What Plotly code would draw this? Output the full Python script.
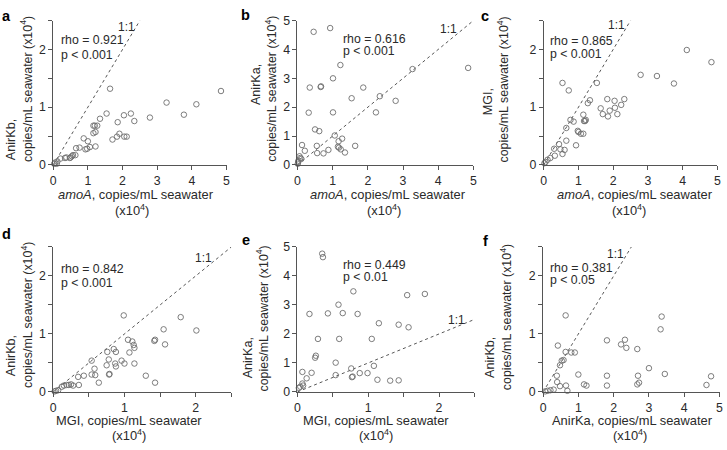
import plotly.graph_objects as go

W, H = 727, 450

# ---------------- data (x10^4 copies/mL seawater) ----------------
# panel a: amoA vs AnirKb
a_amoA = [1.64, 4.84, 3.27, 4.13, 3.77, 2.79, 1.54, 2.04, 2.24, 2.34, 1.86, 1.35, 1.16, 1.20, 1.27,
          1.16, 1.22, 1.91, 1.84, 1.71, 2.05, 2.12, 0.88, 1.00, 1.22, 1.06, 0.98, 0.93, 0.66, 0.76,
          0.57, 0.64, 0.50, 0.54, 0.48, 0.38, 0.34, 0.21, 0.12, 0.05, 0.10, 0.03]
a_AnirKb = [1.32, 1.28, 1.08, 1.05, 0.87, 0.82, 0.89, 0.86, 0.89, 0.76, 0.74, 0.80, 0.68, 0.68, 0.68,
            0.55, 0.57, 0.54, 0.49, 0.44, 0.49, 0.49, 0.46, 0.41, 0.32, 0.31, 0.28, 0.27, 0.29, 0.30,
            0.17, 0.17, 0.13, 0.15, 0.12, 0.13, 0.12, 0.11, 0.06, 0.04, 0.02, 0.02]

# panel b: amoA vs AnirKa
b_amoA = [0.46, 0.93, 1.22, 3.27, 4.85, 1.01, 0.35, 0.66, 0.67, 1.87, 2.34, 1.54, 2.79, 0.32, 1.01,
          2.23, 0.50, 0.62, 1.06, 1.27, 1.17, 1.15, 1.18, 1.23, 1.35, 1.64, 0.88, 0.74, 0.56, 0.55,
          0.13, 0.21, 0.06, 0.08, 0.11, 0.03, 0.02, 0.01]
b_AnirKa = [4.61, 4.74, 3.46, 3.32, 3.36, 3.00, 2.68, 2.70, 2.72, 2.68, 2.38, 2.31, 2.22, 1.81, 1.82,
            1.82, 1.23, 1.17, 1.02, 0.91, 0.82, 0.63, 0.60, 0.54, 0.43, 0.66, 0.52, 0.40, 0.41, 0.66,
            0.69, 0.49, 0.30, 0.24, 0.21, 0.15, 0.10, 0.04]

# panel c: amoA vs MGI
c_amoA = [4.12, 4.83, 2.79, 3.26, 3.75, 0.54, 1.53, 0.72, 2.32, 1.83, 2.04, 1.33, 1.27, 2.23, 2.05,
          1.64, 1.90, 1.70, 2.12, 1.85, 1.14, 0.77, 0.86, 1.21, 1.19, 1.16, 0.65, 0.98, 1.00, 1.07,
          1.14, 0.65, 0.93, 0.44, 0.30, 0.48, 0.60, 0.54, 0.32, 0.19, 0.11, 0.05, 0.02]
c_MGI = [1.99, 1.78, 1.56, 1.54, 1.41, 1.42, 1.42, 1.29, 1.14, 1.14, 1.11, 1.12, 1.07, 1.04, 0.99,
         0.98, 0.94, 0.88, 0.88, 0.84, 0.87, 0.78, 0.75, 0.78, 0.76, 0.76, 0.64, 0.59, 0.57, 0.54,
         0.54, 0.42, 0.34, 0.36, 0.28, 0.27, 0.26, 0.19, 0.16, 0.12, 0.09, 0.05, 0.03]

# panel d: MGI vs AnirKb
d_MGI = [0.99, 1.79, 1.55, 2.01, 1.43, 1.42, 1.57, 1.05, 1.11, 1.13, 1.14, 1.07, 0.76, 0.85, 0.88,
         0.54, 0.78, 0.96, 1.00, 1.14, 0.87, 0.88, 0.75, 0.58, 0.54, 0.59, 0.79, 0.785, 0.64, 1.30,
         1.43, 0.43, 0.35, 0.36, 0.28, 0.25, 0.22, 0.19, 0.15, 0.12, 0.07, 0.04, 0.02]
d_AnirKb = [1.32, 1.29, 1.08, 1.06, 0.90, 0.88, 0.82, 0.90, 0.87, 0.81, 0.76, 0.68, 0.69, 0.74, 0.69,
            0.54, 0.56, 0.54, 0.49, 0.49, 0.49, 0.44, 0.46, 0.40, 0.30, 0.29, 0.31, 0.30, 0.16, 0.28,
            0.16, 0.28, 0.26, 0.12, 0.11, 0.13, 0.12, 0.12, 0.11, 0.09, 0.03, 0.02, 0.01]

# panel e: MGI vs AnirKa
e_MGI = [0.35, 0.36, 0.79, 1.55, 1.80, 0.58, 0.17, 0.43, 0.64, 0.85, 1.15, 1.43, 1.57, 0.29, 0.59,
         1.05, 0.26, 0.25, 0.54, 1.08, 0.76, 0.54, 0.77, 0.78, 0.88, 0.99, 1.13, 1.31, 1.43, 0.07,
         0.20, 0.13, 0.07, 0.08, 0.04, 0.02]
e_AnirKa = [4.77, 4.65, 3.47, 3.34, 3.38, 3.01, 2.69, 2.71, 2.72, 2.69, 2.37, 2.32, 2.23, 1.83, 1.83,
            1.83, 1.25, 1.18, 1.01, 0.90, 0.81, 0.58, 0.51, 0.53, 0.65, 0.65, 0.42, 0.39, 0.40, 0.69,
            0.66, 0.47, 0.29, 0.22, 0.18, 0.14]

# panel f: AnirKa vs AnirKb
f_AnirKa = [0.64, 3.36, 3.33, 1.81, 2.32, 2.21, 2.36, 2.67, 0.42, 0.64, 0.80, 0.90, 0.58, 0.53, 0.48,
            3.00, 1.00, 1.81, 2.69, 3.45, 4.76, 0.39, 0.40, 0.48, 0.65, 1.16, 1.23, 1.81, 2.67, 2.72,
            4.63, 0.69, 0.30, 0.21, 0.13, 0.06]
f_AnirKb = [1.32, 1.30, 1.08, 0.89, 0.90, 0.82, 0.76, 0.74, 0.80, 0.69, 0.68, 0.68, 0.55, 0.54, 0.46,
            0.41, 0.30, 0.28, 0.28, 0.31, 0.27, 0.28, 0.17, 0.10, 0.11, 0.13, 0.11, 0.11, 0.13, 0.16,
            0.12, 0.02, 0.04, 0.03, 0.02, 0.01]

# 1:1 reference line end points (data units)
one_to_one = {"a": [0, 2.5], "b": [0, 5], "c": [0, 2.5], "d": [0, 2.5], "e": [0, 2.5], "f": [0, 2.5]}

stats = {"a": ("rho = 0.921", "p < 0.001"), "b": ("rho = 0.616", "p < 0.001"),
         "c": ("rho = 0.865", "p < 0.001"), "d": ("rho = 0.842", "p < 0.001"),
         "e": ("rho = 0.449", "p < 0.01"), "f": ("rho = 0.381", "p < 0.05")}

x_titles = {"a": "<i>amoA</i>, copies/mL seawater", "b": "<i>amoA</i>, copies/mL seawater",
            "c": "<i>amoA</i>, copies/mL seawater", "d": "MGI, copies/mL seawater",
            "e": "MGI, copies/mL seawater", "f": "AnirKa, copies/mL seawater"}
y_names = {"a": "AnirKb,", "b": "AnirKa,", "c": "MGI,", "d": "AnirKb,", "e": "AnirKa,", "f": "AnirKb,"}
unit_text = "(x10<sup>4</sup>)"
y_unit_text = "copies/mL seawater (x10<sup>4</sup>)"

panels = ["a", "b", "c", "d", "e", "f"]
xs = {"a": a_amoA, "b": b_amoA, "c": c_amoA, "d": d_MGI, "e": e_MGI, "f": f_AnirKa}
ys = {"a": a_AnirKb, "b": b_AnirKa, "c": c_MGI, "d": d_AnirKb, "e": e_AnirKa, "f": f_AnirKb}
x_max = {"a": 5, "b": 5, "c": 5, "d": 2.5, "e": 2.5, "f": 5}
y_max = {"a": 2.5, "b": 5, "c": 2.5, "d": 2.5, "e": 5, "f": 2.5}

# ---------------- layout (pixel geometry) ----------------
x_px = {"a": (50.7, 225.7), "b": (297.3, 475), "c": (546, 721.3),
        "d": (50.7, 230.5), "e": (297.3, 476), "f": (545.3, 723.5)}
y_px_top = (14, 163)
y_px_bot = (247.7, 397.3)

TXT = "#2a2a2a"
AX = "#555555"
FONT = "Liberation Sans, Arial, Helvetica, sans-serif"


def px(x, y):
    return x / W, 1 - y / H


fig = go.Figure()
annotations = []

for i, p in enumerate(panels, start=1):
    xa = "x" if i == 1 else f"x{i}"
    ya = "y" if i == 1 else f"y{i}"
    fig.add_trace(go.Scatter(x=one_to_one[p], y=one_to_one[p], mode="lines", xaxis=xa, yaxis=ya,
                             line=dict(color="#444444", width=0.9, dash="dot"),
                             hoverinfo="skip", showlegend=False))
    fig.add_trace(go.Scatter(x=xs[p], y=ys[p], mode="markers", xaxis=xa, yaxis=ya, cliponaxis=False,
                             marker=dict(symbol="circle-open", size=5.5, color="#6e6e6e",
                                         line=dict(width=0.9, color="#6e6e6e")),
                             showlegend=False))
    ypx = y_px_top if i <= 3 else y_px_bot
    x0, x1 = x_px[p]
    xm = x_max[p]
    ym = y_max[p]
    if xm == 5:
        xt = [0, 1, 2, 3, 4, 5]
        xl = ["0", "1", "2", "3", "4", "5"]
    else:
        xt = [0, 0.5, 1, 1.5, 2, 2.5]
        xl = ["0", "", "1", "", "2", ""]
    if ym == 5:
        yt = [0, 1, 2, 3, 4, 5]
        yl = ["0", "1", "2", "3", "4", "5"]
    else:
        yt = [0, 0.5, 1, 1.5, 2, 2.5]
        yl = ["0", "", "1", "", "2", ""]
    common = dict(showline=True, linecolor=AX, linewidth=1, ticks="outside", ticklen=4, tickwidth=1,
                  tickcolor=AX, showgrid=False, zeroline=False,
                  tickfont=dict(size=12.3, color=TXT, family=FONT))
    fig.layout[f"xaxis{'' if i == 1 else i}"] = dict(
        domain=[x0 / W, x1 / W], anchor=ya, range=[0, xm], tickvals=xt, ticktext=xl, **common)
    fig.layout[f"yaxis{'' if i == 1 else i}"] = dict(
        domain=[1 - ypx[1] / H, 1 - ypx[0] / H], anchor=xa, range=[0, ym], tickvals=yt, ticktext=yl,
        **common)

# text positions (pixels)
letter_pos = {"a": (4, 9), "b": (245, 8), "c": (487, 9.5), "d": (4, 234), "e": (245, 240), "f": (487, 241)}
rho_pos = {"a": (57, 34), "b": (341, 33), "c": (550, 35.5), "d": (57, 270), "e": (341, 266), "f": (550, 269)}
p_pos = {"a": (57, 50), "b": (341, 45.5), "c": (550, 48.5), "d": (57, 285), "e": (341, 279), "f": (550, 282)}
one_pos = {"a": (124.5, 21), "b": (449.5, 22.5), "c": (619.5, 19), "d": (202.5, 259), "e": (457.5, 323),
           "f": (618, 255)}
xt1_pos = {"a": (134, 194), "b": (389, 194), "c": (638, 194), "d": (127, 427), "e": (377, 427), "f": (636, 427)}
xt2_pos = {"a": (130, 210), "b": (385, 210), "c": (632, 210), "d": (127, 442), "e": (377, 442), "f": (633, 442)}
yt1_pos = {"a": (7.5, 137), "b": (255, 80), "c": (490, 98), "d": (7.5, 360), "e": (247, 362), "f": (491, 362)}
yt2_pos = {"a": (24, 85), "b": (271, 84), "c": (505, 85), "d": (24, 318), "e": (262, 321), "f": (508, 320)}


def ann(text, pos, size, xanchor="center", angle=0, bold=False):
    x, y = px(*pos)
    annotations.append(dict(text=f"<b>{text}</b>" if bold else text, x=x, y=y, xref="paper", yref="paper",
                            xanchor=xanchor, yanchor="middle", showarrow=False, textangle=angle,
                            font=dict(size=size, color=TXT if not bold else "#000000", family=FONT)))


for p in panels:
    ann(p, letter_pos[p], 14.5, bold=True)
    ann(stats[p][0], rho_pos[p], 12.3, xanchor="left")
    ann(stats[p][1], p_pos[p], 12.3, xanchor="left")
    ann("1:1", one_pos[p], 12)
    ann(x_titles[p], xt1_pos[p], 12.9)
    ann(unit_text, xt2_pos[p], 12.9)
    ann(y_names[p], yt1_pos[p], 12.6, angle=-90)
    ann(y_unit_text, yt2_pos[p], 12.4, angle=-90)

fig.update_layout(width=W, height=H, margin=dict(l=0, r=0, t=0, b=0),
                  paper_bgcolor="white", plot_bgcolor="white", annotations=annotations,
                  font=dict(family=FONT, color=TXT), showlegend=False)

fig.write_html("out.html", config={"displayModeBar": False},
               post_script="document.body.style.margin='0';document.body.style.padding='0';")
